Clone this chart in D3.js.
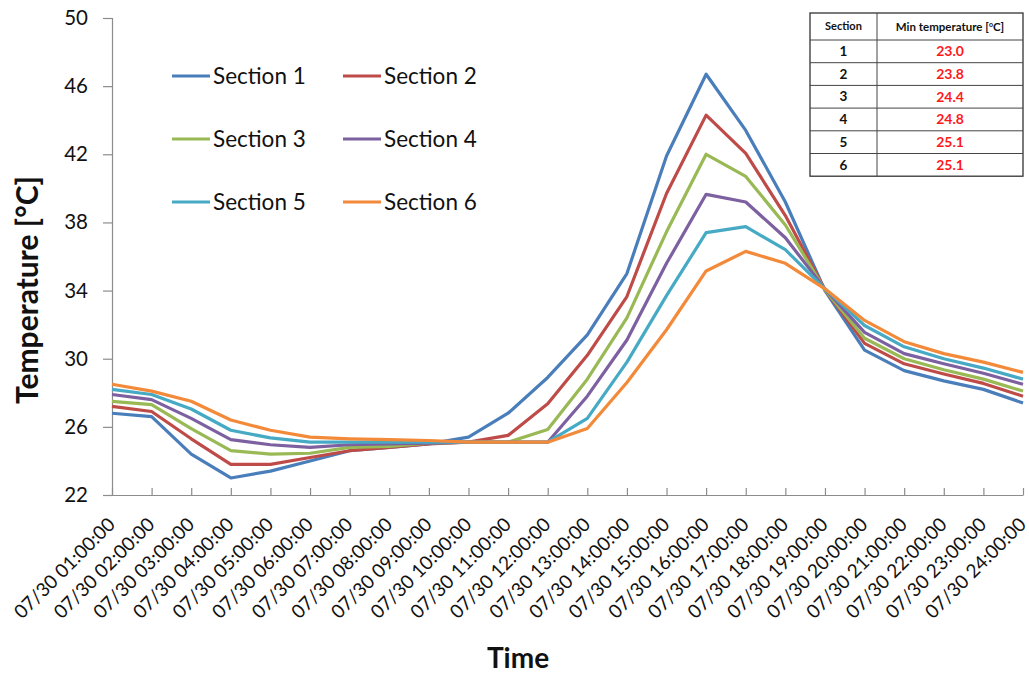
<!DOCTYPE html>
<html>
<head>
<meta charset="utf-8">
<script src="https://cdn.jsdelivr.net/npm/d3@7"></script>
<style>
  html, body { margin: 0; padding: 0; background: #fff; }
  svg { display: block; font-family: Lato, "Open Sans", sans-serif; }
</style>
</head>
<body>
<svg id="chart" width="1029" height="677"></svg>
<script>
const hours = ["01","02","03","04","05","06","07","08","09","10","11","12","13","14","15","16","17","18","19","20","21","22","23","24"];
const timeLabels = hours.map(h => "07/30 " + h + ":00:00");
const yTicks = [22, 26, 30, 34, 38, 42, 46, 50];

const section1 = [26.8, 26.6, 24.4, 23.0, 23.4, 24.0, 24.6, 24.8, 25.0, 25.4, 26.8, 28.9, 31.4, 35.0, 41.9, 46.7, 43.4, 39.2, 34.0, 30.5, 29.3, 28.7, 28.2, 27.4];
const section2 = [27.2, 26.9, 25.3, 23.8, 23.8, 24.2, 24.6, 24.8, 25.0, 25.1, 25.5, 27.35, 30.2, 33.65, 39.7, 44.3, 42.05, 38.4, 34.05, 30.9, 29.7, 29.1, 28.55, 27.8];
const section3 = [27.5, 27.3, 25.9, 24.6, 24.4, 24.45, 24.8, 24.85, 25.05, 25.1, 25.1, 25.85, 28.8, 32.4, 37.45, 42.0, 40.7, 37.85, 34.05, 31.2, 30.0, 29.35, 28.8, 28.1];
const section4 = [27.9, 27.6, 26.5, 25.25, 24.95, 24.8, 24.95, 25.0, 25.05, 25.1, 25.1, 25.1, 27.8, 31.1, 35.6, 39.65, 39.2, 37.1, 34.1, 31.55, 30.3, 29.7, 29.15, 28.5];
const section5 = [28.2, 27.9, 27.05, 25.8, 25.35, 25.1, 25.1, 25.1, 25.1, 25.1, 25.1, 25.1, 26.5, 29.8, 33.7, 37.4, 37.75, 36.4, 34.1, 31.95, 30.7, 30.0, 29.45, 28.8];
const section6 = [28.5, 28.1, 27.5, 26.4, 25.8, 25.4, 25.3, 25.25, 25.2, 25.1, 25.1, 25.1, 25.9, 28.6, 31.7, 35.15, 36.3, 35.6, 34.1, 32.25, 31.0, 30.3, 29.8, 29.2];

const seriesNames = ["Section 1", "Section 2", "Section 3", "Section 4", "Section 5", "Section 6"];
const seriesValues = [section1, section2, section3, section4, section5, section6];
const colors = ["#4A7EBB", "#BE4B48", "#98B954", "#7D60A0", "#46AAC5", "#F38A3A"];

const tableSections = ["1", "2", "3", "4", "5", "6"];
const tableMinTemps = ["23.0", "23.8", "24.4", "24.8", "25.1", "25.1"];

(function () {
const svg = d3.select("#chart");
const plotLeft = 112, plotRight = 1023, plotTop = 18, plotBottom = 495;

const x = d3.scalePoint().domain(timeLabels).range([plotLeft, plotRight]).padding(0);
const y = d3.scaleLinear().domain([22, 50]).range([plotBottom, plotTop]);

const axisColor = "#8c8c8c";

// Y axis
const yAxis = svg.append("g").attr("transform", `translate(${plotLeft},0)`)
  .call(d3.axisLeft(y).tickValues(yTicks).tickSize(9).tickPadding(15).tickFormat(d3.format("d")));
yAxis.select(".domain").attr("stroke", axisColor).attr("stroke-width", 1.2);
yAxis.selectAll(".tick line").attr("stroke", axisColor).attr("stroke-width", 1.2);
yAxis.selectAll(".tick text").attr("font-size", 20.5).attr("fill", "#111").attr("font-family", "Lato, sans-serif");

// X axis
const xAxis = svg.append("g").attr("transform", `translate(0,${plotBottom})`)
  .call(d3.axisBottom(x).tickSize(-7).tickSizeOuter(0));
xAxis.select(".domain").attr("stroke", axisColor).attr("stroke-width", 1.2);
xAxis.selectAll(".tick line").attr("stroke", axisColor).attr("stroke-width", 1.2);
xAxis.selectAll(".tick text")
  .attr("font-size", 19).attr("fill", "#111").attr("font-family", "Lato, sans-serif")
  .attr("text-anchor", "end")
  .attr("dy", "0.35em")
  .attr("transform", "translate(-1,26) rotate(-45)")
  .attr("x", 0).attr("y", 0);

// Lines
const line = d3.line().x((d, i) => x(timeLabels[i])).y(d => y(d));
svg.append("g").selectAll("path").data(seriesValues).join("path")
  .attr("d", d => line(d))
  .attr("fill", "none")
  .attr("stroke", (d, i) => colors[i])
  .attr("stroke-width", 3.2)
  .attr("stroke-linejoin", "round");

// Axis titles
svg.append("text")
  .attr("transform", "translate(38,290) rotate(-90)")
  .attr("text-anchor", "middle")
  .attr("font-size", 30).attr("font-weight", "bold").attr("fill", "#111")
  .text("Temperature [°C]");

svg.append("text")
  .attr("x", 518).attr("y", 668)
  .attr("text-anchor", "middle")
  .attr("font-size", 28).attr("font-weight", "bold").attr("fill", "#111")
  .text("Time");

// Legend
const legendCols = [172, 343];
const legendRows = [76, 139, 202];
const legend = svg.append("g").selectAll("g").data(seriesNames).join("g")
  .attr("transform", (d, i) => `translate(${legendCols[i % 2]},${legendRows[Math.floor(i / 2)]})`);
legend.append("line").attr("x1", 0).attr("x2", 38).attr("y1", 0).attr("y2", 0)
  .attr("stroke", (d, i) => colors[i]).attr("stroke-width", 3);
legend.append("text").attr("x", 41).attr("y", 0).attr("dy", "0.35em")
  .attr("font-size", 22.5).attr("fill", "#111").text(d => d);

// Table
const tX0 = 810, tX1 = 877, tX2 = 1023;
const tY0 = 13, headerH = 27, rowH = 22.7;
const table = svg.append("g");
const rowYs = [tY0, tY0 + headerH].concat(tableSections.map((d, i) => tY0 + headerH + rowH * (i + 1)));
table.append("rect").attr("x", tX0).attr("y", tY0).attr("width", tX2 - tX0).attr("height", rowYs[rowYs.length - 1] - tY0)
  .attr("fill", "#fff").attr("stroke", "#333").attr("stroke-width", 1.3);
table.selectAll("line.h").data(rowYs.slice(1, -1)).join("line").attr("class", "h")
  .attr("x1", tX0).attr("x2", tX2).attr("y1", d => d).attr("y2", d => d)
  .attr("stroke", "#444").attr("stroke-width", 1);
table.append("line").attr("x1", tX1).attr("x2", tX1).attr("y1", tY0).attr("y2", rowYs[rowYs.length - 1])
  .attr("stroke", "#444").attr("stroke-width", 1);
table.append("text").attr("x", (tX0 + tX1) / 2).attr("y", tY0 + headerH / 2).attr("dy", "0.35em")
  .attr("text-anchor", "middle").attr("font-size", 11).attr("font-weight", "bold").attr("fill", "#111")
  .text("Section");
const hdr = table.append("text").attr("x", (tX1 + tX2) / 2).attr("y", tY0 + headerH / 2).attr("dy", "0.35em")
  .attr("text-anchor", "middle").attr("font-size", 11.5).attr("font-weight", "bold").attr("fill", "#111");
hdr.append("tspan").text("Min temperature [");
hdr.append("tspan").attr("font-size", 7).attr("baseline-shift", "super").text("o");
hdr.append("tspan").text("C]");
table.selectAll("text.sec").data(tableSections).join("text").attr("class", "sec")
  .attr("x", (tX0 + tX1) / 2).attr("y", (d, i) => tY0 + headerH + rowH * i + rowH / 2).attr("dy", "0.35em")
  .attr("text-anchor", "middle").attr("font-size", 13.5).attr("font-weight", "bold").attr("fill", "#111")
  .text(d => d);
table.selectAll("text.val").data(tableMinTemps).join("text").attr("class", "val")
  .attr("x", (tX1 + tX2) / 2).attr("y", (d, i) => tY0 + headerH + rowH * i + rowH / 2).attr("dy", "0.35em")
  .attr("text-anchor", "middle").attr("font-size", 14).attr("font-weight", "bold").attr("fill", "#ff1a1a")
  .text(d => d);
})();
</script>
</body>
</html>
